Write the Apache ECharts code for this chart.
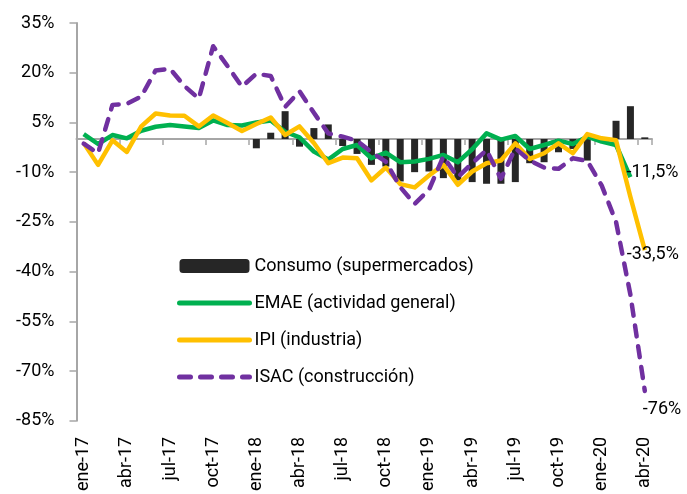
<!DOCTYPE html>
<html>
<head>
<meta charset="utf-8">
<script src="https://cdn.jsdelivr.net/npm/echarts@6/dist/echarts.min.js"></script>
<style>
html,body{margin:0;padding:0;background:#fff;}
#c{width:687px;height:494px;}
</style>
</head>
<body>
<div id="c"></div>
<script>
var categories = ['ene-17','feb-17','mar-17','abr-17','may-17','jun-17','jul-17','ago-17','sep-17','oct-17','nov-17','dic-17',
  'ene-18','feb-18','mar-18','abr-18','may-18','jun-18','jul-18','ago-18','sep-18','oct-18','nov-18','dic-18',
  'ene-19','feb-19','mar-19','abr-19','may-19','jun-19','jul-19','ago-19','sep-19','oct-19','nov-19','dic-19',
  'ene-20','feb-20','mar-20','abr-20'];

var consumo = [null,null,null,null,null,null,null,null,null,null,null,null,
  -2.8, 1.9, 8.4, -2.3, 3.3, 4.4, -2.1, -4.5, -7.8, -8.3, -12.8, -10.0,
  -9.8, -11.8, -12.5, -13.0, -13.5, -13.5, -13.0, -7.3, -7.0, -4.0, -3.0, -6.5,
  -0.3, 5.5, 9.9, 0.5];

var emae = [1.5, -1.5, 1.2, 0.2, 2.5, 3.7, 4.2, 3.8, 3.3, 5.6, 4.2, 4.1,
  5.0, 5.6, 2.2, 0.5, -3.8, -6.2, -3.0, -1.8, -5.8, -4.1, -7.0, -6.8,
  -6.0, -4.8, -7.0, -3.1, 1.7, -0.2, 0.9, -3.0, -1.8, -0.5, -1.5, 0.7,
  -0.8, -1.8, -11.5];

var ipi = [-1.2, -7.8, -0.4, -3.9, 3.8, 7.7, 7.1, 7.0, 3.8, 7.1, 4.8, 2.4,
  4.5, 6.5, 1.2, 3.8, -1.2, -7.3, -5.6, -5.8, -12.5, -8.6, -13.6, -14.6,
  -11.0, -7.8, -13.8, -9.8, -7.3, -6.5, -1.3, -6.0, -4.3, -1.3, -4.3, 1.5,
  0.2, -0.4, -17.5, -33.5];

var isac = [-1.4, -4.3, 10.3, 10.6, 12.8, 20.7, 21.2, 16.0, 12.2, 28.0, 22.0, 15.8,
  19.7, 19.0, 9.7, 14.4, 7.9, 1.7, 0.7, -0.5, -4.0, -6.8, -14.5, -19.6,
  -15.3, -5.3, -11.5, -7.3, -3.3, -12.0, -2.8, -6.5, -8.6, -9.0, -5.8, -6.6,
  -14.0, -25.0, -47.0, -76.0];

var yTicks = [-85, -70, -55, -40, -25, -10, 5, 20, 35];

var FONT = 'Roboto';
var GREEN = '#00b050', YELLOW = '#ffc000', PURPLE = '#7030a0', BLACK = '#262626';
var DASH = [11, 10];

function fmt(v){ return String(v).replace('.', ',') + '%'; }

function endLabel(offset){
  return {show: true, distance: 5, offset: offset,
    formatter: function(p){ var v = Array.isArray(p.value) ? p.value[1] : p.value; return fmt(v); },
    fontFamily: FONT, fontSize: 18, color: '#000'};
}

var chart = echarts.init(document.getElementById('c'), null, {renderer: 'canvas'});
chart.setOption({
  animation: false,
  backgroundColor: '#fff',
  grid: {left: 76.5, right: 35, top: 23, bottom: 71, containLabel: false},
  legend: {
    orient: 'vertical',
    left: 177, top: 256,
    padding: 0,
    itemWidth: 70, itemHeight: 14,
    itemGap: 17,
    textStyle: {fontFamily: FONT, fontSize: 18, color: '#000', lineHeight: 20},
    data: [
      {name: 'Consumo (supermercados)'},
      {name: 'EMAE (actividad general)', itemStyle: {opacity: 0}, lineStyle: {width: 5, color: GREEN, cap: 'round'}},
      {name: 'IPI (industria)', itemStyle: {opacity: 0}, lineStyle: {width: 5, color: YELLOW, cap: 'round'}},
      {name: 'ISAC (construcción)', itemStyle: {opacity: 0}, lineStyle: {width: 5, color: PURPLE, type: DASH, cap: 'round'}}
    ]
  },
  xAxis: [{
    type: 'category',
    data: categories,
    position: 'bottom',
    boundaryGap: true,
    axisLine: {show: false, onZero: false},
    axisTick: {show: false},
    axisLabel: {interval: 2, rotate: 90, margin: 16, fontFamily: FONT, fontSize: 18, color: '#000'},
    splitLine: {show: false}
  }, {
    type: 'category',
    data: categories,
    position: 'bottom',
    boundaryGap: true,
    axisLine: {show: true, onZero: true, lineStyle: {color: '#a6a6a6', width: 2}},
    axisTick: {show: true, interval: 2, length: 6, lineStyle: {color: '#a6a6a6', width: 1.5}},
    axisLabel: {show: false},
    splitLine: {show: false}
  }],
  yAxis: {
    type: 'value',
    min: -85, max: 35,
    axisLine: {show: true, lineStyle: {color: '#a6a6a6', width: 2}},
    axisTick: {show: true, length: 7, customValues: yTicks, lineStyle: {color: '#a6a6a6', width: 1.5}},
    axisLabel: {customValues: yTicks, margin: 22, fontFamily: FONT, fontSize: 18, color: '#000',
      formatter: function(v){ return v + '%'; }},
    splitLine: {show: false}
  },
  series: [{
    name: 'Consumo (supermercados)',
    type: 'bar',
    data: consumo,
    barWidth: 7,
    itemStyle: {color: BLACK}
  }, {
    name: 'EMAE (actividad general)',
    type: 'line',
    data: emae,
    symbol: 'none',
    lineStyle: {color: GREEN, width: 4.5, join: 'round'},
    itemStyle: {color: GREEN},
    endLabel: endLabel([-9, -5])
  }, {
    name: 'IPI (industria)',
    type: 'line',
    data: ipi,
    symbol: 'none',
    lineStyle: {color: YELLOW, width: 4.5, join: 'round'},
    itemStyle: {color: YELLOW},
    endLabel: endLabel([-23, 4])
  }, {
    name: 'ISAC (construcción)',
    type: 'line',
    data: isac,
    symbol: 'none',
    lineStyle: {color: PURPLE, width: 4.5, type: DASH, cap: 'round', join: 'round'},
    itemStyle: {color: PURPLE},
    endLabel: endLabel([-7, 19])
  }]
});
</script>
</body>
</html>
